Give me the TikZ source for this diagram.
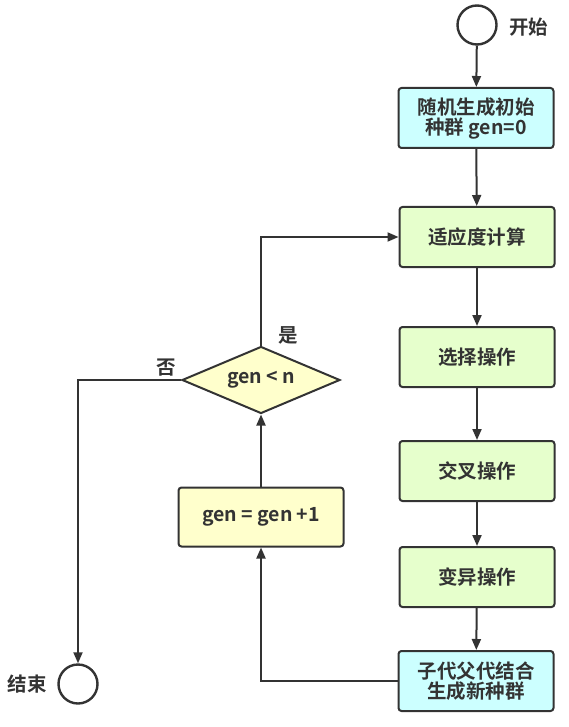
\documentclass[tikz,border=0pt]{standalone}
\usepackage{fontspec}
\setmainfont{Noto Sans CJK SC}[BoldFont={* Bold}]
\usetikzlibrary{arrows.meta,shapes.geometric}
\definecolor{linec}{HTML}{333333}
\definecolor{cyanf}{HTML}{CCFFFF}
\definecolor{greenf}{HTML}{E6FFCC}
\definecolor{yellowf}{HTML}{FFFFCC}
\tikzset{
  every node/.style={font=\fontsize{19.5}{23}\selectfont\bfseries, text=linec},
  boxs/.style={draw=linec, line width=2pt, rounded corners=3pt, minimum width=155pt, minimum height=60pt, align=center, inner sep=2pt},
  cbox/.style={boxs, fill=cyanf},
  gbox/.style={boxs, fill=greenf},
  ybox/.style={boxs, fill=yellowf, minimum width=165pt, minimum height=59pt},
  circ/.style={draw=linec, line width=2.4pt, circle, minimum size=39pt, inner sep=0pt},
  dia/.style={draw=linec, line width=2pt, fill=yellowf, diamond, aspect=2.36, minimum width=158pt, minimum height=67pt, inner sep=0pt},
  conn/.style={draw=linec, line width=2pt, -{Triangle[length=11pt,width=9pt]}},
  lbl/.style={inner sep=0pt}
}
\begin{document}
\begin{tikzpicture}[x=1pt,y=-1pt]
\useasboundingbox (0,0) rectangle (568,727);
\node[circ] (start) at (477,25) {};
\node[lbl, anchor=west] (startl) at (509,27) {开始};
\node[cbox] (init) at (476,118) {随机生成初始\\[-3pt]种群 gen=0};
\node[gbox] (fit) at (477,237) {适应度计算};
\node[gbox] (sel) at (477,357) {选择操作};
\node[gbox] (cross) at (477,471) {交叉操作};
\node[gbox] (mut) at (477,577) {变异操作};
\node[cbox] (comb) at (476,681) {子代父代结合\\[-3pt]生成新种群};
\node[dia] (cond) at (261,380) {gen < n};
\node[ybox] (inc) at (261,517) {gen = gen +1};
\node[circ] (end) at (78,684) {};
\node[lbl, anchor=east] (endl) at (47,684) {结束};
\node[lbl] (yes) at (288,335) {是};
\node[lbl] (no) at (166,368) {否};

\draw[conn] (start) -- (init);
\draw[conn] (init) -- (fit);
\draw[conn] (fit) -- (sel);
\draw[conn] (sel) -- (cross);
\draw[conn] (cross) -- (mut);
\draw[conn] (mut) -- (comb);
\draw[conn] (comb.west) -| (inc.south);
\draw[conn] (inc) -- (cond.south);
\draw[conn] (cond.north) |- (fit.west);
\draw[conn] (cond.west) -| (end.north);
\end{tikzpicture}
\end{document}
